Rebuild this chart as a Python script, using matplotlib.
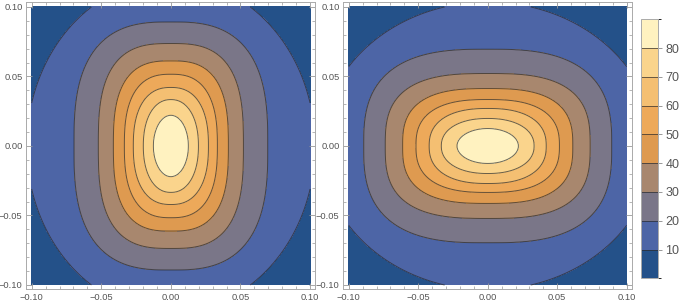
import numpy as np
import matplotlib
matplotlib.use("Agg")
import matplotlib.pyplot as plt
from matplotlib.colors import ListedColormap, BoundaryNorm
from matplotlib.ticker import MultipleLocator, FuncFormatter

plt.rcParams["font.family"] = ["Liberation Sans", "DejaVu Sans"]

# contour levels and the half-widths of each contour
levels = [0, 10, 20, 30, 40, 50, 60, 70, 80, 90]
half_x = [0.160, 0.1035, 0.0696, 0.0521, 0.0413, 0.0334, 0.0270, 0.0198, 0.0126, 0.001]
half_y = [0.170, 0.1198, 0.0892, 0.0737, 0.0612, 0.0516, 0.0421, 0.0334, 0.0221, 0.001]
shape_p = [2.0, 2.0, 2.8, 2.9, 2.8, 2.6, 2.4, 2.2, 2.0, 2.0]   # superellipse exponent
cbar_ticks = [10, 20, 30, 40, 50, 60, 70, 80]

band_colors = ["#245189", "#4d65a6", "#7a7688", "#a8876e", "#de9a50",
               "#eda95a", "#f4bf72", "#fad48c", "#fff2c0"]


def field(X, Y, hx, hy, pp):
    # value at a point = highest level whose contour still contains it
    lo = np.zeros_like(X)
    hi = np.full_like(X, float(levels[-1]))
    for _ in range(40):
        mid = (lo + hi) / 2
        a = np.interp(mid, levels, hx)
        b = np.interp(mid, levels, hy)
        q = np.interp(mid, levels, pp)
        inside = (np.abs(X) / a) ** q + (np.abs(Y) / b) ** q <= 1
        lo = np.where(inside, mid, lo)
        hi = np.where(inside, hi, mid)
    return lo


g = np.linspace(-0.1, 0.1, 501)
X, Y = np.meshgrid(g, g)
Z1 = field(X, Y, half_x, half_y, shape_p)
Z2 = field(X, Y, half_y, half_x, shape_p)   # right panel: same field turned 90 degrees

cmap = ListedColormap(band_colors)
norm = BoundaryNorm(levels, cmap.N)

fig = plt.figure(figsize=(6.81, 3.05), dpi=100)
ax1 = fig.add_axes([0.0382, 0.0515, 0.4244, 0.942])
ax2 = fig.add_axes([0.5037, 0.0515, 0.4239, 0.942])
cax = fig.add_axes([0.9408, 0.0875, 0.0258, 0.849])

minus = FuncFormatter(lambda v, pos: ("%.2f" % v).replace("-", "\u2212"))

for ax, Z in [(ax1, Z1), (ax2, Z2)]:
    cs = ax.contourf(X, Y, Z, levels=levels, cmap=cmap, norm=norm)
    cl = ax.contour(X, Y, Z, levels=levels[1:-1], colors="#2a2a2a",
                    linewidths=0.7, alpha=0.7)
    ax.set_xlim(-0.1041, 0.1036)
    ax.set_ylim(-0.1031, 0.1036)
    ax.xaxis.set_major_locator(MultipleLocator(0.05))
    ax.yaxis.set_major_locator(MultipleLocator(0.05))
    ax.xaxis.set_minor_locator(MultipleLocator(0.01))
    ax.yaxis.set_minor_locator(MultipleLocator(0.01))
    ax.xaxis.set_major_formatter(minus)
    ax.yaxis.set_major_formatter(minus)
    ax.tick_params(which="both", direction="in", top=True, right=True,
                   color="#999999", labelsize=6.7, labelcolor="#555555", pad=2.5)
    ax.tick_params(which="major", length=4, width=0.6)
    ax.tick_params(which="minor", length=2, width=0.5)
    for s in ax.spines.values():
        s.set_color("#aaaaaa")
        s.set_linewidth(0.7)

cb = fig.colorbar(cs, cax=cax, ticks=cbar_ticks)
cb.add_lines(cl)
cb.outline.set_edgecolor("#aaaaaa")
cb.outline.set_linewidth(0.7)
cax.tick_params(direction="out", length=3, width=0.6, color="#888888",
                labelsize=9, labelcolor="#555555", pad=2)

fig.savefig("out.png", dpi=100)
